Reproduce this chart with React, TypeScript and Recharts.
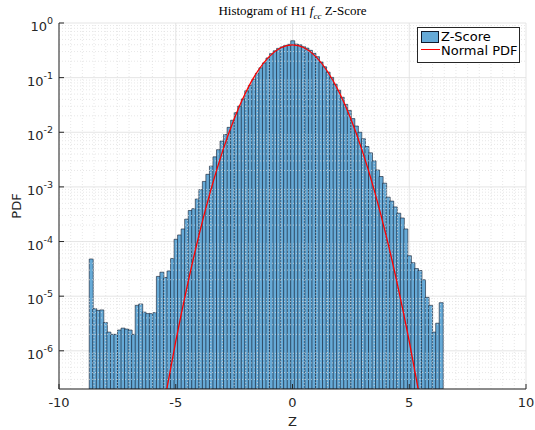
import {
  Bar,
  CartesianGrid,
  ComposedChart,
  Line,
  ReferenceLine,
  XAxis,
  YAxis,
} from "recharts";

// histogram bins: 100 bins, first edge and width
const BIN_START = -8.7055;
const BIN_WIDTH = 0.1514;

// bin heights (PDF), left to right
const density = [
  4.8e-5, 5.9e-6, 5.5e-6, 5.6e-6, 3.3e-6, 2.2e-6, 2.0e-6, 2.0e-6, 2.4e-6, 2.6e-6,
  2.5e-6, 2.4e-6, 2.0e-6, 6.8e-6, 7.2e-6, 5.1e-6, 4.8e-6, 4.8e-6, 5.0e-6, 2.3e-5,
  2.75e-5, 2.2e-5, 2.9e-5, 4.9e-5, 1.1e-4, 1.32e-4, 1.7e-4, 2.57e-4, 3.7e-4, 4.0e-4,
  6.0e-4, 8.9e-4, 1.26e-3, 1.7e-3, 2.4e-3, 3.55e-3, 4.8e-3, 6.9e-3, 9.1e-3, 0.0123,
  0.0166, 0.0229, 0.0302, 0.0407, 0.0575, 0.0724, 0.0933, 0.12, 0.151, 0.186,
  0.229, 0.275, 0.309, 0.343, 0.367, 0.389, 0.407, 0.473, 0.411, 0.398,
  0.372, 0.347, 0.316, 0.278, 0.242, 0.193, 0.158, 0.126, 0.101, 0.0759,
  0.0589, 0.0437, 0.0324, 0.0251, 0.0178, 0.013, 0.01, 7.6e-3, 5.5e-3, 4.2e-3,
  3.0e-3, 2.04e-3, 1.55e-3, 1.17e-3, 6.5e-4, 5.5e-4, 4.3e-4, 3.3e-4, 2.7e-4, 1.7e-4,
  5.5e-5, 4.1e-5, 3.2e-5, 2.95e-5, 2.0e-5, 9.5e-6, 6.8e-6, 2.2e-6, 3.2e-6, 7.6e-6,
];

// red normal pdf curve, read at these z values
const normZ = [-5.5, -5, -4.5, -4, -3.5, -3, -2.5, -2, -1.5, -1, -0.5, 0, 0.5, 1, 1.5, 2, 2.5, 3, 3.5, 4, 4.5, 5, 5.5];
const normPdf = [
  1.08e-7, 1.49e-6, 1.6e-5, 1.34e-4, 8.73e-4, 4.43e-3, 0.0175, 0.054, 0.1295, 0.242, 0.352, 0.399,
  0.352, 0.242, 0.1295, 0.054, 0.0175, 4.43e-3, 8.73e-4, 1.34e-4, 1.6e-5, 1.49e-6, 1.08e-7,
];

const xTicks = [-10, -5, 0, 5, 10];
const yTicks = [1e-6, 1e-5, 1e-4, 1e-3, 1e-2, 1e-1, 1];
const Y_MIN = 2e-7;

const bins = density.map((d, i) => ({ z: BIN_START + (i + 0.5) * BIN_WIDTH, density: d }));
const normal = normZ.map((z, i) => ({ z, pdf: normPdf[i] }));

// minor grid positions
const xMinor: number[] = [];
for (let i = -19; i <= 19; i++) if (i % 10 !== 0) xMinor.push(i / 2);
const yMinor: number[] = [];
for (let e = -7; e <= -1; e++)
  for (let m = 2; m <= 9; m++) {
    const v = m * Math.pow(10, e);
    if (v > Y_MIN * 1.01) yMinor.push(v);
  }

const AXIS = "#262626";
const FONT = "DejaVu Sans";

const LogTick = (props: any) => {
  const { x, y, payload } = props;
  const exp = Math.round(Math.log10(payload.value));
  return (
    <text x={x} y={y} textAnchor="end" fill={AXIS} fontSize={13} fontFamily={FONT}>
      <tspan dy={8}>10</tspan>
      <tspan dy={-7} fontSize={9.5}>
        {exp}
      </tspan>
    </text>
  );
};

export default function App() {
  return (
    <div style={{ position: "fixed", left: 0, top: 0, width: 535, height: 430, background: "#fff" }}>
      <div
        style={{
          position: "absolute",
          left: 59,
          width: 467,
          top: 4,
          textAlign: "center",
          fontFamily: "Liberation Serif",
          fontSize: 13,
          lineHeight: "13px",
          color: "#000",
        }}
      >
        Histogram of H1 <i>f</i>
        <sub style={{ fontSize: 9, fontStyle: "italic" }}>cc</sub> Z-Score
      </div>
      <ComposedChart
        width={535}
        height={430}
        data={bins}
        margin={{ top: 23, right: 9, bottom: 0, left: 0 }}
        barCategoryGap={0}
        barGap={0}
      >
        <CartesianGrid stroke="#dedede" strokeWidth={0.8} />
        {xMinor.map((v) => (
          <ReferenceLine key={"x" + v} x={v} stroke="#dcdcdc" strokeWidth={0.7} strokeDasharray="1 2" />
        ))}
        {yMinor.map((v) => (
          <ReferenceLine key={"y" + v} y={v} stroke="#dcdcdc" strokeWidth={0.7} strokeDasharray="1 2" />
        ))}
        <XAxis
          type="number"
          dataKey="z"
          domain={[-10, 10]}
          ticks={xTicks}
          allowDataOverflow
          height={41}
          stroke={AXIS}
          tickSize={-5}
          tickMargin={14}
          tick={{ fill: AXIS, fontSize: 13, fontFamily: FONT }}
          label={{ value: "Z", position: "insideBottom", offset: 4, fill: AXIS, fontSize: 13, fontFamily: FONT }}
        />
        <XAxis xAxisId="bins" type="number" dataKey="z" domain={[-10, 10]} allowDataOverflow hide />
        <XAxis
          xAxisId="top"
          orientation="top"
          type="number"
          domain={[-10, 10]}
          ticks={xTicks}
          allowDataOverflow
          height={0}
          stroke={AXIS}
          tickSize={-5}
          tick={false}
        />
        <YAxis
          type="number"
          scale="log"
          domain={[Y_MIN, 1]}
          ticks={yTicks}
          allowDataOverflow
          width={59}
          stroke={AXIS}
          tickSize={-5}
          tickMargin={11}
          tick={<LogTick />}
          label={{
            content: (p: any) => {
              const vb = p.viewBox || { x: 0, y: 23, height: 366 };
              const cx = vb.x + 16;
              const cy = vb.y + vb.height / 2;
              return (
                <text
                  x={cx}
                  y={cy}
                  transform={`rotate(-90, ${cx}, ${cy})`}
                  textAnchor="middle"
                  dominantBaseline="central"
                  fill={AXIS}
                  fontSize={13}
                  fontFamily={FONT}
                >
                  PDF
                </text>
              );
            },
          }}
        />
        <YAxis
          yAxisId="right"
          orientation="right"
          type="number"
          scale="log"
          domain={[Y_MIN, 1]}
          ticks={yTicks}
          allowDataOverflow
          width={0}
          stroke={AXIS}
          tickSize={-5}
          tick={false}
        />
        <Bar
          xAxisId="bins"
          dataKey="density"
          fill="#66aad7"
          stroke="#111a2a"
          strokeWidth={0.6}
          isAnimationActive={false}
        />
        <Line
          data={normal}
          dataKey="pdf"
          type="natural"
          stroke="#ff0000"
          strokeWidth={1.3}
          dot={false}
          isAnimationActive={false}
        />
      </ComposedChart>
      <div
        style={{
          position: "absolute",
          left: 417,
          top: 27,
          width: 101,
          height: 34,
          border: `1px solid ${AXIS}`,
          background: "#fff",
          fontFamily: FONT,
          fontSize: 13,
          color: "#000",
        }}
      >
        <div
          style={{
            position: "absolute",
            left: 3,
            top: 3,
            width: 18,
            height: 12,
            background: "#66aad7",
            border: "1px solid #111a2a",
            boxSizing: "border-box",
          }}
        />
        <div style={{ position: "absolute", left: 23, top: 2, lineHeight: "13px", whiteSpace: "nowrap" }}>Z-Score</div>
        <div style={{ position: "absolute", left: 3, top: 21, width: 19, height: 1.3, background: "#ff0000" }} />
        <div style={{ position: "absolute", left: 23, top: 16, lineHeight: "13px", whiteSpace: "nowrap" }}>
          Normal PDF
        </div>
      </div>
    </div>
  );
}
